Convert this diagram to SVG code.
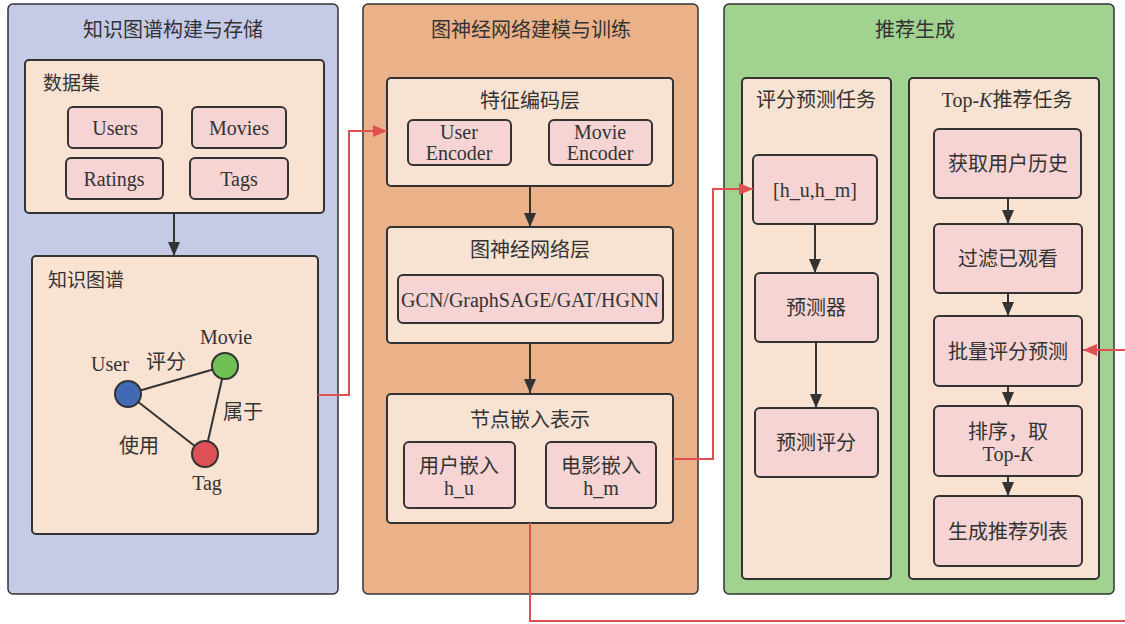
<svg xmlns="http://www.w3.org/2000/svg" width="1125" height="624" viewBox="0 0 1125 624">
<defs>
<style>
text{font-family:"Liberation Serif","Noto Sans CJK SC",serif;fill:#333;}
.t{font-size:20px;text-anchor:middle;}
.s{font-size:19px;}
.m{font-size:20px;text-anchor:middle;}
.panel{stroke:#333;stroke-width:1.5;}
.box{fill:#f8e2d2;stroke:#333;stroke-width:2;}
.node{fill:#f5d4d3;stroke:#333;stroke-width:2;}
.blk{stroke:#333;stroke-width:2;fill:none;}
.red{stroke:#e05050;stroke-width:2;fill:none;}
</style>
<marker id="ar" viewBox="0 0 10 10" refX="10" refY="5" markerWidth="14" markerHeight="12" orient="auto" markerUnits="userSpaceOnUse" preserveAspectRatio="none"><path d="M0,0 L10,5 L0,10 z" fill="#e05050"/></marker>
<marker id="ab2" viewBox="0 0 10 10" refX="10" refY="5" markerWidth="14" markerHeight="12" orient="auto" markerUnits="userSpaceOnUse" preserveAspectRatio="none"><path d="M0,0 L10,5 L0,10 z" fill="#333"/></marker>
</defs>
<rect width="1125" height="624" fill="#ffffff"/>

<g id="panel-kg">
<rect class="panel" x="8" y="4" width="330" height="590" rx="5" fill="#c5cae6"/>
<text class="t" x="173" y="37">知识图谱构建与存储</text>
</g>
<g id="dataset">
<rect class="box" x="25" y="60" width="299" height="153" rx="4"/>
<text class="s" x="43" y="90">数据集</text>
</g>
<g id="users"><rect class="node" x="68" y="107" width="94" height="41" rx="5"/><text class="m" x="115" y="135">Users</text></g>
<g id="movies"><rect class="node" x="192" y="107" width="94" height="41" rx="5"/><text class="m" x="239" y="135">Movies</text></g>
<g id="ratings"><rect class="node" x="66" y="158" width="97" height="41" rx="5"/><text class="m" x="114" y="186">Ratings</text></g>
<g id="tags"><rect class="node" x="190" y="158" width="98" height="41" rx="5"/><text class="m" x="239" y="186">Tags</text></g>
<g id="kg">
<rect class="box" x="32" y="256" width="286" height="278" rx="4"/>
<text class="s" x="48" y="287">知识图谱</text>
<line class="blk" x1="128" y1="394" x2="225" y2="366"/>
<line class="blk" x1="225" y1="366" x2="205" y2="454"/>
<line class="blk" x1="128" y1="394" x2="205" y2="454"/>
<circle cx="128" cy="394" r="13" fill="#4169b4" stroke="#333" stroke-width="2"/>
<circle cx="225" cy="366" r="13" fill="#70c055" stroke="#333" stroke-width="2"/>
<circle cx="205" cy="454" r="13" fill="#dd5055" stroke="#333" stroke-width="2"/>
<text class="m" x="110" y="371">User</text>
<text class="m" x="166" y="369">评分</text>
<text class="m" x="226" y="344">Movie</text>
<text class="m" x="243" y="419">属于</text>
<text class="m" x="139" y="453">使用</text>
<text class="m" x="207" y="490">Tag</text>
</g>

<g id="panel-gnn">
<rect class="panel" x="363" y="4" width="335" height="590" rx="5" fill="#ebb289"/>
<text class="t" x="531" y="37">图神经网络建模与训练</text>
</g>
<g id="feat">
<rect class="box" x="387" y="78" width="286" height="108" rx="4"/>
<text class="m" x="530" y="108">特征编码层</text>
</g>
<g id="ue"><rect class="node" x="408" y="120" width="103" height="45" rx="5"/><text class="m" x="459" y="139">User</text><text class="m" x="459" y="160">Encoder</text></g>
<g id="me"><rect class="node" x="549" y="120" width="103" height="45" rx="5"/><text class="m" x="600" y="139">Movie</text><text class="m" x="600" y="160">Encoder</text></g>
<g id="gnnl">
<rect class="box" x="387" y="227" width="286" height="116" rx="4"/>
<text class="m" x="530" y="257">图神经网络层</text>
</g>
<g id="gcn"><rect class="node" x="398" y="275" width="265" height="48" rx="5"/><text class="m" x="530" y="307">GCN/GraphSAGE/GAT/HGNN</text></g>
<g id="emb">
<rect class="box" x="387" y="394" width="286" height="129" rx="4"/>
<text class="m" x="530" y="427">节点嵌入表示</text>
</g>
<g id="hu"><rect class="node" x="404" y="442" width="111" height="66" rx="5"/><text class="m" x="459" y="473">用户嵌入</text><text class="m" x="459" y="495">h_u</text></g>
<g id="hm"><rect class="node" x="546" y="442" width="110" height="66" rx="5"/><text class="m" x="601" y="473">电影嵌入</text><text class="m" x="601" y="495">h_m</text></g>

<g id="panel-rec">
<rect class="panel" x="724" y="4" width="390" height="590" rx="5" fill="#a2d290"/>
<text class="t" x="915" y="37">推荐生成</text>
</g>
<g id="rating-task">
<rect class="box" x="742" y="78" width="149" height="501" rx="4"/>
<text class="m" x="816" y="107">评分预测任务</text>
</g>
<g id="topk-task">
<rect class="box" x="909" y="78" width="190" height="501" rx="4"/>
<text class="m" x="1007" y="107">Top-<tspan font-style="italic">K</tspan>推荐任务</text>
</g>
<g id="concat"><rect class="node" x="753" y="155" width="124" height="69" rx="5"/><text class="m" x="815" y="197">[h_u,h_m]</text></g>
<g id="predictor"><rect class="node" x="755" y="273" width="123" height="69" rx="5"/><text class="m" x="816" y="315">预测器</text></g>
<g id="pred-score"><rect class="node" x="755" y="408" width="123" height="69" rx="5"/><text class="m" x="816" y="450">预测评分</text></g>
<g id="history"><rect class="node" x="934" y="129" width="147" height="69" rx="5"/><text class="m" x="1008" y="171">获取用户历史</text></g>
<g id="filter"><rect class="node" x="934" y="224" width="148" height="69" rx="5"/><text class="m" x="1008" y="266">过滤已观看</text></g>
<g id="batch"><rect class="node" x="934" y="316" width="148" height="70" rx="5"/><text class="m" x="1008" y="359">批量评分预测</text></g>
<g id="sort"><rect class="node" x="934" y="406" width="148" height="70" rx="5"/><text class="m" x="1008" y="439">排序，取</text><text class="m" x="1008" y="461">Top-<tspan font-style="italic">K</tspan></text></g>
<g id="gen"><rect class="node" x="934" y="496" width="148" height="70" rx="5"/><text class="m" x="1008" y="539">生成推荐列表</text></g>

<g id="connectors">
<line class="blk" x1="174" y1="213" x2="174" y2="256" marker-end="url(#ab2)"/>
<line class="blk" x1="530" y1="186" x2="530" y2="227" marker-end="url(#ab2)"/>
<line class="blk" x1="530" y1="343" x2="530" y2="393" marker-end="url(#ab2)"/>
<line class="blk" x1="815" y1="224" x2="815" y2="273" marker-end="url(#ab2)"/>
<line class="blk" x1="816" y1="342" x2="816" y2="408" marker-end="url(#ab2)"/>
<line class="blk" x1="1008" y1="198" x2="1008" y2="224" marker-end="url(#ab2)"/>
<line class="blk" x1="1008" y1="293" x2="1008" y2="316" marker-end="url(#ab2)"/>
<line class="blk" x1="1008" y1="386" x2="1008" y2="406" marker-end="url(#ab2)"/>
<line class="blk" x1="1008" y1="476" x2="1008" y2="496" marker-end="url(#ab2)"/>
<path class="red" d="M318,395 H349 V131 H387" marker-end="url(#ar)"/>
<path class="red" d="M673,459 H713 V189 H753" marker-end="url(#ar)"/>
<path class="red" d="M530,523 V621 H1140 V350 H1083" marker-end="url(#ar)"/>
</g>
</svg>
